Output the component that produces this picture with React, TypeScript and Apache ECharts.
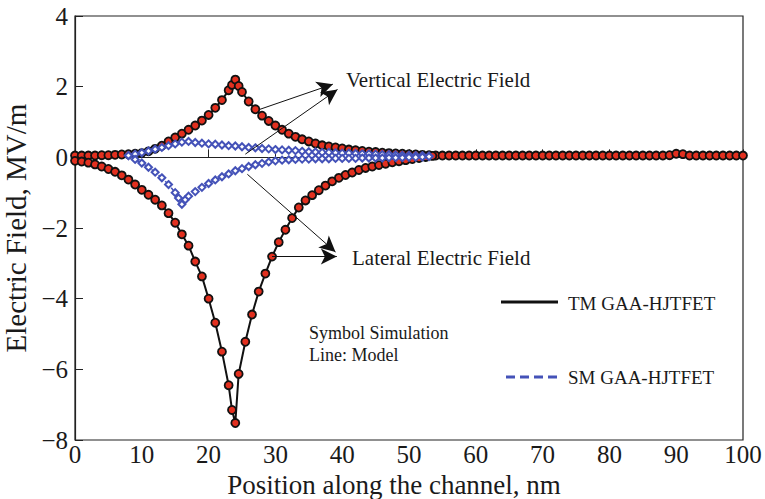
import React, { useEffect, useRef } from "react";
import * as echarts from "echarts";

const xTicks = { min: 0, max: 100, interval: 10 };
const yTicks = { min: -8, max: 4, interval: 2 };

const tmVertical: [number, number][] = [
  [0, 0.05], [1, 0.05], [2, 0.05], [3, 0.05], [4, 0.06], [5, 0.06], [6, 0.07], [7, 0.08], [8, 0.09], [9, 0.1],
  [10, 0.12], [11, 0.17], [12, 0.24], [13, 0.33], [14, 0.45], [15, 0.56], [16, 0.67], [17, 0.78], [18, 0.9], [19, 1.04],
  [20, 1.2], [21, 1.4], [22, 1.62], [23, 1.9], [23.5, 2.05], [24, 2.2], [24.5, 2.02], [25, 1.85], [26, 1.58], [27, 1.36],
  [28, 1.18], [29, 1.03], [30, 0.9], [31, 0.78], [32, 0.67], [33, 0.58], [34, 0.51], [35, 0.45], [36, 0.39], [37, 0.34],
  [38, 0.31], [39, 0.28], [40, 0.25], [41, 0.22], [42, 0.2], [43, 0.18], [44, 0.16], [45, 0.15], [46, 0.13], [47, 0.12],
  [48, 0.11], [49, 0.1], [50, 0.09], [51, 0.08], [52, 0.07], [53, 0.06], [54, 0.05], [55, 0.05], [56, 0.05], [57, 0.05],
  [58, 0.05], [59, 0.05], [60, 0.05], [61, 0.05], [62, 0.05], [63, 0.05], [64, 0.05], [65, 0.05], [66, 0.05], [67, 0.05],
  [68, 0.05], [69, 0.05], [70, 0.05], [71, 0.05], [72, 0.05], [73, 0.05], [74, 0.05], [75, 0.05], [76, 0.05], [77, 0.05],
  [78, 0.05], [79, 0.05], [80, 0.05], [81, 0.05], [82, 0.05], [83, 0.05], [84, 0.05], [85, 0.05], [86, 0.05], [87, 0.05],
  [88, 0.05], [89, 0.06], [90, 0.1], [91, 0.09], [92, 0.05], [93, 0.05], [94, 0.05], [95, 0.05], [96, 0.05], [97, 0.05],
  [98, 0.05], [99, 0.05], [100, 0.05],
];

const tmLateral: [number, number][] = [
  [0, -0.1], [1, -0.12], [2, -0.15], [3, -0.2], [4, -0.26], [5, -0.33], [6, -0.41], [7, -0.51], [8, -0.63], [9, -0.77],
  [10, -0.92], [11, -1.06], [12, -1.2], [13, -1.36], [14, -1.58], [15, -1.85], [16, -2.18], [17, -2.5], [18, -2.95], [19, -3.37],
  [20, -4.0], [21, -4.68], [22, -5.5], [23, -6.45], [23.5, -7.15], [24, -7.52], [24.5, -6.13], [25.5, -5.22], [26.5, -4.45], [27.5, -3.8],
  [28.5, -3.29], [29.5, -2.81], [30.5, -2.4], [31.5, -2.05], [32.5, -1.72], [33.5, -1.42], [34.5, -1.22], [35.5, -1.07], [36.5, -0.93], [37.5, -0.8],
  [38.5, -0.68], [39.5, -0.58], [40.5, -0.5], [41.5, -0.43], [42.5, -0.36], [43.5, -0.3], [44.5, -0.26], [45.5, -0.22], [46.5, -0.18], [47.5, -0.14],
  [48.5, -0.11], [49.5, -0.08], [50.5, -0.05], [51.5, -0.02], [52.5, 0.01], [53.5, 0.04],
];

const smVertical: [number, number][] = [
  [8, 0.05], [9, 0.09], [10, 0.13], [11, 0.18], [12, 0.23], [13, 0.28], [14, 0.33], [15, 0.38], [16, 0.43], [17, 0.45],
  [18, 0.42], [19, 0.4], [20, 0.38], [21, 0.37], [22, 0.35], [23, 0.33], [24, 0.32], [25, 0.3], [26, 0.28], [27, 0.27],
  [28, 0.25], [29, 0.24], [30, 0.22], [31, 0.21], [32, 0.2], [33, 0.19], [34, 0.17], [35, 0.16], [36, 0.15], [37, 0.14],
  [38, 0.14], [39, 0.13], [40, 0.12], [41, 0.12], [42, 0.11], [43, 0.1], [44, 0.1], [45, 0.09], [46, 0.08], [47, 0.08],
  [48, 0.07], [49, 0.06], [50, 0.06], [51, 0.05], [52, 0.05], [53, 0.04],
];

const smLateral: [number, number][] = [
  [8, 0.05], [9, -0.06], [10, -0.16], [11, -0.28], [12, -0.42], [13, -0.58], [14, -0.77], [15, -1.0], [15.5, -1.15], [16, -1.33],
  [16.5, -1.2], [17, -1.1], [18, -0.97], [19, -0.85], [20, -0.74], [21, -0.64], [22, -0.55], [23, -0.47], [24, -0.38], [25, -0.32],
  [26, -0.26], [27, -0.21], [28, -0.17], [29, -0.13], [30, -0.1], [31, -0.08], [32, -0.07], [33, -0.06], [34, -0.05], [35, -0.05],
  [36, -0.04], [37, -0.04], [38, -0.04], [39, -0.03], [40, -0.03], [41, -0.03], [42, -0.03], [43, -0.02], [44, -0.02], [45, -0.02],
  [46, -0.02], [47, -0.01], [48, -0.01], [49, -0.01], [50, 0.0], [51, 0.0], [52, 0.01], [53, 0.02],
];

const arrows: [[number, number], [number, number]][] = [
  [[27.7, 1.36], [38.6, 2.07]],
  [[25.5, 0.09], [39.3, 1.92]],
  [[25.8, -0.48], [39.0, -2.68]],
  [[29.5, -2.81], [39.2, -2.81]],
];

const FONT = "'Liberation Serif', 'Times New Roman', serif";
const RED = "#e2301f";
const BLUE = "#4452b8";
const INK = "#1a1a1a";

export default function App() {
  const ref = useRef<HTMLDivElement>(null);
  useEffect(() => {
    if (!ref.current) return;
    const chart = echarts.init(ref.current, null, { renderer: "svg" });
    const fmt = (v: number) => (v < 0 ? "\u2212" + Math.abs(v) : String(v));
    const tmStyle = {
      type: "line" as const,
      symbol: "circle",
      symbolSize: 8,
      itemStyle: { color: RED, borderColor: "#111", borderWidth: 1.8 },
      lineStyle: { color: "#111", width: 2 },
      z: 2,
    };
    const smStyle = {
      type: "line" as const,
      symbol: "emptyDiamond",
      symbolSize: 7,
      itemStyle: { color: BLUE, borderColor: BLUE, borderWidth: 1.5 },
      lineStyle: { color: BLUE, width: 1.5, type: "dashed" as const },
      z: 3,
    };
    const txt = (text: string, x: number, y: number, size: number) => ({
      type: "text",
      x,
      y,
      style: { text, font: `${size}px ${FONT}`, fill: INK, textAlign: "left", textVerticalAlign: "middle", verticalAlign: "middle" },
    });
    chart.setOption({
      animation: false,
      grid: {
        left: 75, right: 22, top: 16, bottom: 59,
        outerBoundsMode: "none", containLabel: false,
        show: true, borderColor: "#222", borderWidth: 1.2, backgroundColor: "transparent",
      },
      xAxis: {
        type: "value",
        ...xTicks,
        name: "Position along the channel, nm",
        nameLocation: "middle",
        nameGap: 24,
        nameTextStyle: { fontFamily: FONT, fontSize: 27, color: INK, padding: [0, 30, 0, 0] },
        axisLine: { lineStyle: { color: "#222", width: 1.2 } },
        axisTick: { inside: true, length: 8, lineStyle: { color: "#222" } },
        axisLabel: { fontFamily: FONT, fontSize: 25, color: INK, margin: 2 },
        splitLine: { show: false },
      },
      yAxis: {
        type: "value",
        ...yTicks,
        name: "Electric Field, MV/m",
        nameLocation: "middle",
        nameGap: 37,
        nameTextStyle: { fontFamily: FONT, fontSize: 29, color: INK },
        axisLine: { show: true, lineStyle: { color: "#222", width: 1.2 } },
        axisTick: { show: true, inside: true, length: 8, lineStyle: { color: "#222" } },
        axisLabel: { fontFamily: FONT, fontSize: 25, color: INK, margin: 7, formatter: fmt },
        splitLine: { show: false },
      },
      series: [
        {
          ...tmStyle,
          name: "TM vertical",
          data: tmVertical,
          markLine: {
            silent: true,
            symbol: ["none", "arrow"],
            symbolSize: [12, 16],
            label: { show: false },
            lineStyle: { color: "#111", width: 1, type: "solid" },
            data: arrows.map(([a, b]) => [{ coord: a }, { coord: b }]),
          },
        },
        { ...tmStyle, name: "TM lateral", data: tmLateral },
        { ...smStyle, name: "SM vertical", data: smVertical },
        { ...smStyle, name: "SM lateral", data: smLateral },
      ],
      graphic: [
        txt("Vertical Electric Field", 346, 80, 21),
        txt("Lateral Electric Field", 352, 258, 21),
        txt("Symbol Simulation", 309, 333, 18),
        txt("Line: Model", 309, 355, 18),
        { type: "line", shape: { x1: 501, y1: 302, x2: 558, y2: 302 }, style: { stroke: "#111", lineWidth: 3 } },
        txt("TM GAA-HJTFET", 568, 303, 19),
        { type: "line", shape: { x1: 506, y1: 377, x2: 560, y2: 377 }, style: { stroke: BLUE, lineWidth: 3, lineDash: [9, 5] } },
        txt("SM GAA-HJTFET", 568, 377, 19),
      ],
    });
    return () => chart.dispose();
  }, []);
  return <div ref={ref} style={{ width: 765, height: 499, position: "absolute", left: 0, top: 0 }} />;
}
